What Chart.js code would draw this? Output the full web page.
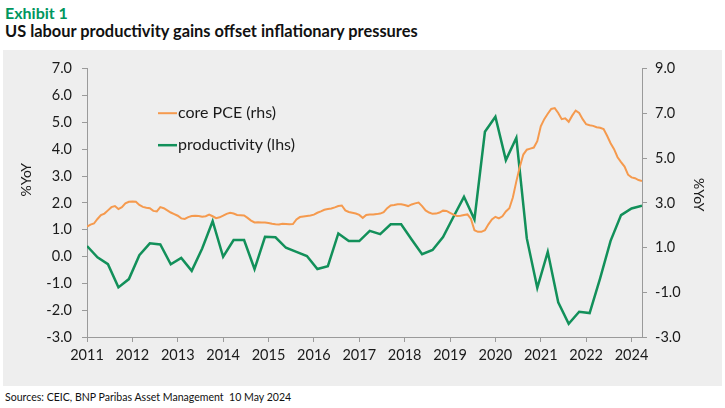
<!DOCTYPE html>
<html>
<head>
<meta charset="utf-8">
<script src="https://cdn.jsdelivr.net/npm/chart.js@4.4.1/dist/chart.umd.min.js"></script>
<style>
  body { margin: 0; width: 725px; height: 408px; background: #fff; position: relative; overflow: hidden; font-family: Lato, sans-serif; }
  .exhibit { position: absolute; left: 5px; top: 3px; font: 700 16px Lato; color: #00965e; white-space: nowrap; }
  .title { position: absolute; left: 5px; top: 21px; font: 700 16.4px Lato; color: #111; white-space: nowrap; }
  .panel { position: absolute; left: 3px; top: 50px; width: 719px; height: 336px; background: #eeeeee; }
  .source { position: absolute; left: 5px; top: 389px; font: 12px Lato, sans-serif; color: #111; white-space: nowrap; transform-origin: 0 50%; }
</style>
</head>
<body>
<div class="exhibit">Exhibit 1</div>
<div class="title">US labour productivity gains offset inflationary pressures</div>
<div class="panel"><canvas id="chart" width="719" height="336"></canvas></div>
<div class="source" id="source">Sources: CEIC, BNP Paribas Asset Management&nbsp; 10 May 2024</div>
<script>
// x axis: month index from Jan 2011, a labelled tick every 13 months
const yearLabels = ["2011", "2012", "2013", "2014", "2015", "2016", "2017", "2018", "2019", "2020", "2021", "2022", "2024"];
const tickEvery = 13;
const lastMonth = 159;

// core PCE, %YoY, monthly
const corePce = [
  1.11, 1.19, 1.23, 1.40, 1.54, 1.60, 1.72, 1.84, 1.88, 1.77,
  1.84, 1.98, 2.04, 2.05, 2.04, 1.92, 1.85, 1.82, 1.80, 1.70,
  1.68, 1.84, 1.80, 1.72, 1.64, 1.58, 1.52, 1.42, 1.40, 1.47,
  1.51, 1.52, 1.51, 1.48, 1.50, 1.56, 1.50, 1.43, 1.46, 1.52,
  1.59, 1.63, 1.60, 1.55, 1.54, 1.53, 1.44, 1.34, 1.27, 1.28,
  1.27, 1.27, 1.25, 1.22, 1.20, 1.19, 1.22, 1.21, 1.20, 1.21,
  1.38, 1.47, 1.49, 1.51, 1.53, 1.56, 1.63, 1.68, 1.74, 1.77,
  1.79, 1.83, 1.88, 1.90, 1.72, 1.66, 1.63, 1.60, 1.55, 1.44,
  1.55, 1.57, 1.57, 1.58, 1.60, 1.65, 1.80, 1.90, 1.92, 1.95,
  1.95, 1.92, 1.88, 1.94, 1.98, 2.01, 1.88, 1.72, 1.64, 1.59,
  1.60, 1.64, 1.71, 1.70, 1.63, 1.56, 1.51, 1.52, 1.55, 1.57,
  1.40, 0.98, 0.92, 0.92, 0.98, 1.20, 1.38, 1.48, 1.42, 1.50,
  1.68, 1.80, 2.20, 2.80, 3.35, 3.80, 3.98, 4.02, 4.06, 4.30,
  4.85, 5.12, 5.32, 5.50, 5.53, 5.35, 5.12, 5.15, 5.02, 5.25,
  5.44, 5.35, 5.12, 4.93, 4.89, 4.87, 4.82, 4.80, 4.75, 4.50,
  4.22, 4.00, 3.70, 3.52, 3.35, 3.05, 2.95, 2.92, 2.85, 2.81
];

// productivity, %YoY, quarterly (every 3rd month)
const productivity = [
  1.07, 0.56, 0.26, -0.78, -0.41, 0.66, 1.19, 1.14, 0.25, 0.54,
  -0.04, 0.96, 2.18, 0.59, 1.34, 1.34, 0.04, 1.48, 1.46, 0.99,
  0.81, 0.62, 0.04, 0.17, 1.63, 1.29, 1.29, 1.75, 1.60, 2.04,
  2.04, 1.36, 0.70, 0.89, 1.47, 2.38, 3.27, 2.26, 6.18, 6.85,
  4.91, 5.91, 1.41, -0.80, 0.81, -1.45, -2.41, -1.87, -1.93, -0.38,
  1.30, 2.45, 2.75, 2.87
];
const quarterStep = 3;

const axisColor = "#9a9a9a";
const textColor = "#1a1a1a";

// squeeze the source line to the narrow width of the original
const src = document.getElementById("source");
src.style.transform = "scaleX(" + (286 / src.offsetWidth) + ")";

// Legend inside the plot + rotated axis titles
const annotations = {
  id: "annotations",
  afterDatasetsDraw(chart) {
    const { ctx, chartArea } = chart;
    ctx.save();
    ctx.font = "16px Lato";
    ctx.textBaseline = "middle";
    ctx.fillStyle = textColor;
    chart.data.datasets.forEach((ds, i) => {
      const x = chartArea.left + 71;
      const y = chartArea.top + 44.5 + i * 32;
      ctx.strokeStyle = ds.borderColor;
      ctx.lineWidth = ds.borderWidth;
      ctx.beginPath();
      ctx.moveTo(x, y);
      ctx.lineTo(x + 19, y);
      ctx.stroke();
      ctx.fillText(ds.label, x + 20, y);
    });

    ctx.font = "14px Lato";
    ctx.textAlign = "center";
    ctx.save();
    ctx.translate(chartArea.left - 61, chartArea.top + 111);
    ctx.rotate(-Math.PI / 2);
    ctx.fillText("%YoY", 0, 0);
    ctx.restore();
    ctx.save();
    ctx.translate(chartArea.right + 57, chartArea.top + 126);
    ctx.rotate(Math.PI / 2);
    ctx.fillText("%YoY", 0, 0);
    ctx.restore();
    ctx.restore();
  },
};

const ctx = document.getElementById("chart").getContext("2d");
new Chart(ctx, {
  type: "line",
  data: {
    datasets: [
      {
        label: "core PCE (rhs)",
        data: corePce.map((v, i) => ({ x: i, y: v })),
        yAxisID: "yL",
        borderColor: "#f59a4e",
        borderWidth: 2,
        pointRadius: 0,
        tension: 0,
      },
      {
        label: "productivity (lhs)",
        data: productivity.map((v, i) => ({ x: i * quarterStep, y: v })),
        yAxisID: "yR",
        borderColor: "#12905a",
        borderWidth: 2.5,
        pointRadius: 0,
        tension: 0,
      },
    ],
  },
  options: {
    responsive: false,
    animation: false,
    layout: { padding: { top: 18.5, left: 0, right: 0, bottom: 0 } },
    plugins: { legend: { display: false }, tooltip: { enabled: false } },
    scales: {
      x: {
        type: "linear",
        min: 0,
        max: lastMonth,
        afterFit: (s) => { s.height = 49; },
        border: { display: true, color: axisColor },
        grid: { drawOnChartArea: false, tickLength: 5, color: axisColor },
        ticks: {
          stepSize: tickEvery,
          includeBounds: false,
          autoSkip: false,
          maxRotation: 0,
          padding: 5,
          color: textColor,
          font: { family: "Lato", size: 14.5 },
          callback: (v, i) => yearLabels[i],
        },
      },
      yL: {
        position: "left",
        min: -3,
        max: 7,
        afterFit: (s) => { s.width = 84; },
        border: { display: true, color: axisColor },
        grid: { drawOnChartArea: false, tickLength: 5, color: axisColor },
        ticks: {
          stepSize: 1,
          padding: 10,
          color: textColor,
          font: { family: "Lato", size: 14.5 },
          callback: (v) => v.toFixed(1),
        },
      },
      yR: {
        position: "right",
        min: -3,
        max: 9,
        afterFit: (s) => { s.width = 80; },
        border: { display: true, color: axisColor },
        grid: { drawOnChartArea: false, tickLength: 5, color: axisColor },
        ticks: {
          stepSize: 2,
          padding: 8,
          color: textColor,
          font: { family: "Lato", size: 14.5 },
          callback: (v) => v.toFixed(1),
        },
      },
    },
  },
  plugins: [annotations],
});
</script>
</body>
</html>
